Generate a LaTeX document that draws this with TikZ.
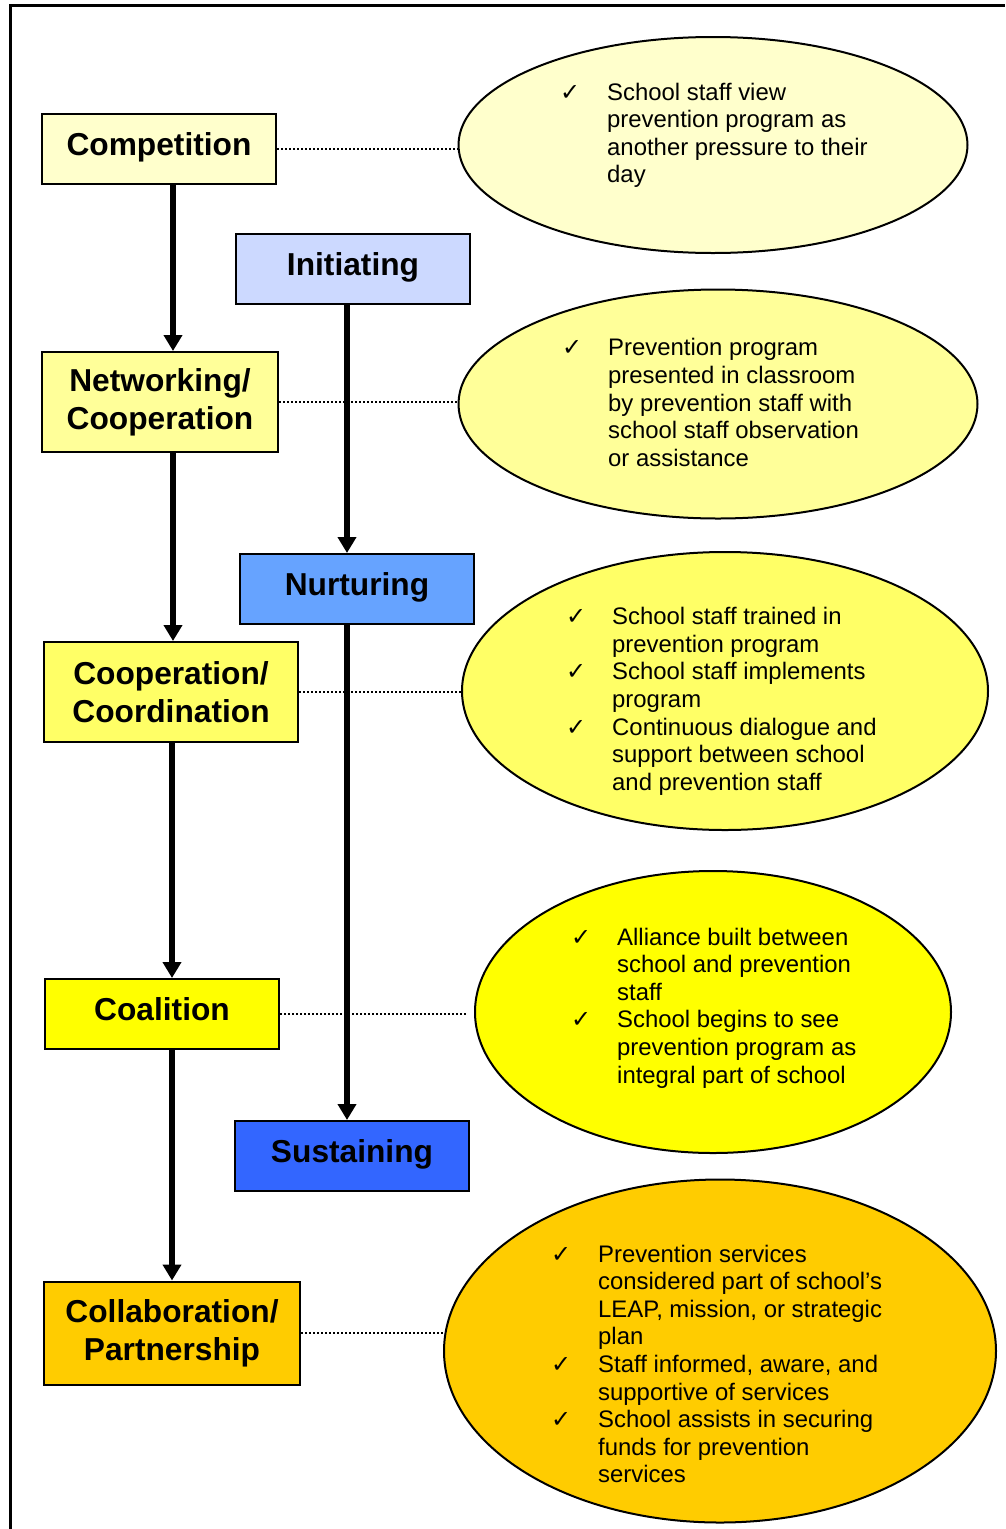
\documentclass[tikz,border=0pt]{standalone}
\usepackage{fontspec}
\setmainfont{Liberation Sans}
\newfontfamily\symfont{DejaVu Sans}
\usepackage{tikz}
\usetikzlibrary{shapes.geometric, arrows.meta, positioning, calc}
\usepackage{xcolor}
\definecolor{paleyellow}{RGB}{255,255,204}
\definecolor{lightyellow}{RGB}{255,255,153}
\definecolor{midyellow}{RGB}{255,255,102}
\definecolor{fullyellow}{RGB}{255,255,0}
\definecolor{goldyellow}{RGB}{255,204,0}
\definecolor{paleblue}{RGB}{204,217,255}
\definecolor{midblue}{RGB}{102,163,255}
\definecolor{deepblue}{RGB}{51,102,255}
\newcommand{\chk}{{\symfont ✓}}

\begin{document}
\begin{tikzpicture}[
    x=1pt, y=-1pt,
    stage/.style={rectangle, draw=black, line width=2pt, minimum width=234, minimum height=70, align=center, inner sep=0pt, font=\fontsize{31.7}{38}\selectfont\bfseries},
    oneline/.style={text height=22pt, text depth=9pt},
    bubble/.style={ellipse, draw=black, line width=2pt, inner sep=0pt},
    bubbletext/.style={anchor=west, inner sep=0pt, align=left, font=\fontsize{23.9}{27.6}\selectfont},
    arrow/.style={-{Triangle[length=16pt, width=18pt]}, line width=5.5pt},
    link/.style={line width=2pt, dash pattern=on 2pt off 2pt},
    frame/.style={line width=3pt}
]
\useasboundingbox (0,0) rectangle (1005,1529);
\draw[frame] (10,1529) -- (10,5) -- (1005,5);

% Left column: relationship stages
\node[stage, oneline, fill=paleyellow] (comp) at (159,149) {Competition};
\node[stage, fill=lightyellow, minimum width=236, minimum height=100] (netw) at (160,402) {Networking/\\Cooperation};
\node[stage, fill=midyellow, minimum width=254, minimum height=100] (coop) at (171,692) {Cooperation/\\Coordination};
\node[stage, oneline, fill=fullyellow] (coal) at (162,1014) {Coalition};
\node[stage, fill=goldyellow, minimum width=256, minimum height=103] (collab) at (172,1333) {Collaboration/\\Partnership};

% Middle column: program phases
\node[stage, oneline, fill=paleblue] (init) at (353,269) {Initiating};
\node[stage, oneline, fill=midblue] (nurt) at (357,589) {Nurturing};
\node[stage, oneline, fill=deepblue] (sust) at (352,1156) {Sustaining};

% Right column: descriptions
\node[bubble, fill=paleyellow, minimum width=509, minimum height=216] (e1) at (713,145) {};
\node[bubble, fill=lightyellow, minimum width=519, minimum height=229] (e2) at (718,404) {};
\node[bubble, fill=midyellow, minimum width=526, minimum height=278] (e3) at (725,691) {};
\node[bubble, fill=fullyellow, minimum width=476, minimum height=282] (e4) at (713,1012) {};
\node[bubble, fill=goldyellow, minimum width=552, minimum height=343] (e5) at (720,1351) {};

\node[bubbletext] (e1txt) at (560,136) {\begin{tabular}{@{}p{47pt}@{}l@{}}
\chk & School staff view\\
 & prevention program as\\
 & another pressure to their\\
 & day
\end{tabular}};
\node[bubbletext] (e2txt) at (562,405.5) {\begin{tabular}{@{}p{46pt}@{}l@{}}
\chk & Prevention program\\
 & presented in classroom\\
 & by prevention staff with\\
 & school staff observation\\
 & or assistance
\end{tabular}};
\node[bubbletext] (e3txt) at (566,702) {\begin{tabular}{@{}p{46pt}@{}l@{}}
\chk & School staff trained in\\
 & prevention program\\
\chk & School staff implements\\
 & program\\
\chk & Continuous dialogue and\\
 & support between school\\
 & and prevention staff
\end{tabular}};
\node[bubbletext] (e4txt) at (571,1008.5) {\begin{tabular}{@{}p{46pt}@{}l@{}}
\chk & Alliance built between\\
 & school and prevention\\
 & staff\\
\chk & School begins to see\\
 & prevention program as\\
 & integral part of school
\end{tabular}};
\node[bubbletext] (e5txt) at (551,1367) {\begin{tabular}{@{}p{47pt}@{}l@{}}
\chk & Prevention services\\
 & considered part of school’s\\
 & LEAP, mission, or strategic\\
 & plan\\
\chk & Staff informed, aware, and\\
 & supportive of services\\
\chk & School assists in securing\\
 & funds for prevention\\
 & services
\end{tabular}};

% Arrows
\draw[arrow] ([xshift=14]comp.south) -- ([xshift=14]comp.south |- netw.north);
\draw[arrow] ([xshift=13]netw.south) -- ([xshift=13]netw.south |- coop.north);
\draw[arrow] ([xshift=1]coop.south) -- ([xshift=1]coop.south |- coal.north);
\draw[arrow] ([xshift=10]coal.south) -- ([xshift=10]coal.south |- collab.north);
\draw[arrow] ([xshift=-6]init.south) -- ([xshift=-6]init.south |- nurt.north);
\draw[arrow] ([xshift=-10]nurt.south) -- ([xshift=-10]nurt.south |- sust.north);

% Dotted links
\draw[link] (comp.east) -- (comp.east -| e1.west);
\draw[link] (netw.east) -- (netw.east -| e2.west);
\draw[link] (coop.east) -- (coop.east -| e3.west);
\draw[link] (coal.east) -- ([xshift=-7]coal.east -| e4.west);
\draw[link] (collab.east) -- (collab.east -| e5.west);
\end{tikzpicture}
\end{document}
